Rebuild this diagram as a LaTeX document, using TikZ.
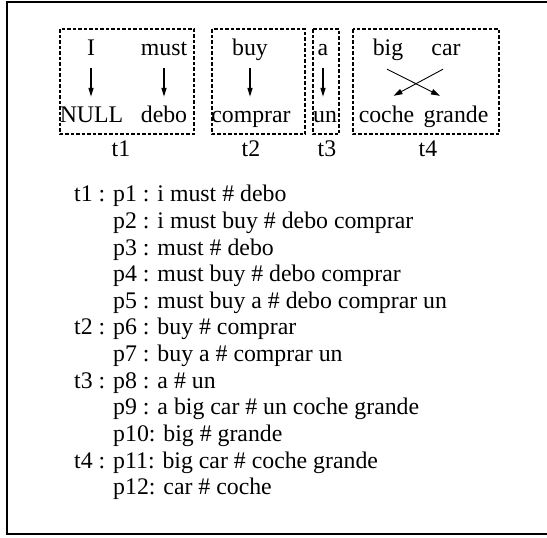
\documentclass[tikz,border=0pt]{standalone}
\usepackage{fontspec}
\setmainfont{Liberation Serif}
\usetikzlibrary{arrows.meta,calc}
\begin{document}
\begin{tikzpicture}[x=1pt,y=-1pt,
  every node/.style={font=\fontsize{23.8}{26.7}\selectfont, inner sep=0pt},
  word/.style={anchor=base, text height=15pt, text depth=5pt},
  line/.style={anchor=base west},
  tbox/.style={draw, line width=1.6pt, dash pattern=on 3.5pt off 2pt},
  frame/.style={draw, line width=2.2pt},
  varr/.style={line width=1.4pt, -{Triangle[length=9pt,width=5pt]}, shorten <=8pt, shorten >=10pt},
  xarr/.style={line width=0.9pt, -{Triangle[length=9pt,width=5.5pt]}}
]
\useasboundingbox (0,0) rectangle (547,538);
\draw[frame] (7,2) rectangle (560,534);
% boxes
\draw[tbox] (60,29) rectangle (194,134);
\draw[tbox] (212,29) rectangle (305,134);
\draw[tbox] (313,29) rectangle (339,134);
\draw[tbox] (353,29) rectangle (499,134);
% top words
\node[word] (I) at (91,55) {I};
\node[word] (must) at (164,55) {must};
\node[word] (buy) at (250,55) {buy};
\node[word] (a) at (323,55) {a};
\node[word] (big) at (388,55) {big};
\node[word] (car) at (446,55) {car};
% bottom words
\node[word] (NULL) at (91.5,122) {NULL};
\node[word] (debo) at (164,122) {debo};
\node[word] (comprar) at (251,122) {comprar};
\node[word] (un) at (325,122) {un};
\node[word] (coche) at (386.5,122) {coche};
\node[word] (grande) at (456,122) {grande};
% labels
\node[anchor=base] (t1) at (121,156) {t1};
\node[anchor=base] (t2) at (251,156) {t2};
\node[anchor=base] (t3) at (327,156) {t3};
\node[anchor=base] (t4) at (428,156) {t4};
% arrows
\draw[varr] (I.south) -- (I.south |- NULL.north);
\draw[varr] (must.south) -- (must.south |- debo.north);
\draw[varr] (buy.south) -- (buy.south |- comprar.north);
\draw[varr] (a.south) -- (a.south |- un.north);
\draw[xarr] ($(big.south)+(-1,9)$) -- ($(grande.north)+(-16,-11)$);
\draw[xarr] ($(car.south)+(-3,9)$) -- ($(coche.north)+(7,-11)$);
% list
\node[line] (l1) at (74,201.7) {t1 :};
\node[line] (p1) at (113,201.7) {p1 : i must \# debo};
\node[line] (p2) at (113,228.3) {p2 : i must buy \# debo comprar};
\node[line] (p3) at (113,255.0) {p3 : must \# debo};
\node[line] (p4) at (113,281.6) {p4 : must buy \# debo comprar};
\node[line] (p5) at (113,308.3) {p5 : must buy a \# debo comprar un};
\node[line] (l2) at (74,334.9) {t2 :};
\node[line] (p6) at (113,334.9) {p6 : buy \# comprar};
\node[line] (p7) at (113,361.6) {p7 : buy a \# comprar un};
\node[line] (l3) at (74,388.2) {t3 :};
\node[line] (p8) at (113,388.2) {p8 : a \# un};
\node[line] (p9) at (113,414.9) {p9 : a big car \# un coche grande};
\node[line] (p10) at (113,441.5) {p10: big \# grande};
\node[line] (l4) at (74,468.2) {t4 :};
\node[line] (p11) at (113,468.2) {p11: big car \# coche grande};
\node[line] (p12) at (113,494.8) {p12: car \# coche};
\end{tikzpicture}
\end{document}
